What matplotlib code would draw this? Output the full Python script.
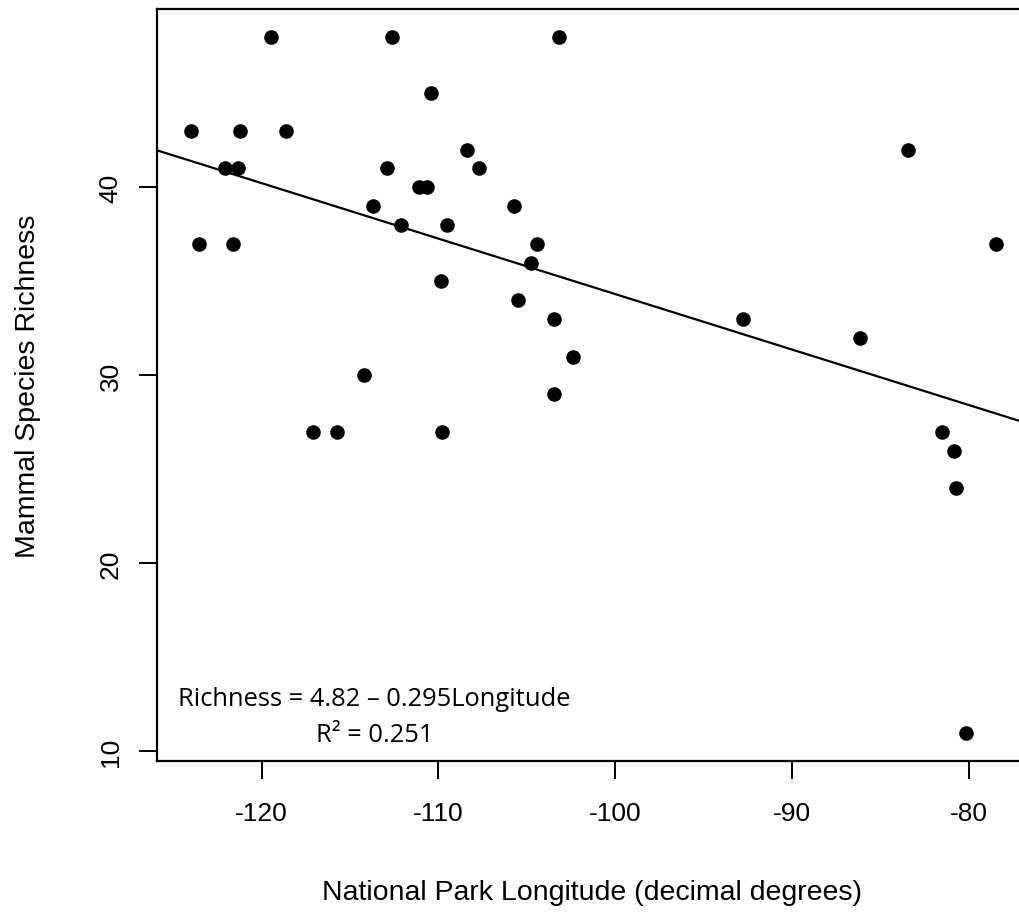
import matplotlib
matplotlib.use("Agg")
import matplotlib.pyplot as plt

# national park longitude (decimal degrees) and mammal species richness
longitude = [-124.0, -123.55, -122.08, -121.62, -121.32, -121.21, -119.47,
             -118.61, -117.12, -115.76, -114.20, -113.72, -112.93, -112.61,
             -112.14, -111.12, -110.67, -110.44, -109.88, -109.78, -109.54,
             -108.39, -107.73, -105.71, -105.49, -104.78, -104.45, -103.47,
             -103.47, -103.20, -102.41, -92.80, -86.16, -83.46, -81.54,
             -80.84, -80.73, -80.16, -78.48]
richness = [43, 37, 41, 37, 41, 43, 48,
            43, 27, 27, 30, 39, 41, 48,
            38, 40, 40, 45, 35, 27, 38,
            42, 41, 39, 34, 36, 37, 33,
            29, 48, 31, 33, 32, 42, 27,
            26, 24, 11, 37]

intercept = 4.82
slope = -0.295

x_ticks = [-120, -110, -100, -90, -80]
y_ticks = [10, 20, 30, 40]

fig = plt.figure(figsize=(10.2, 9.2), dpi=100)
W, H = 1020.0, 920.0
# axes box in pixels (the right side runs off the picture like the original)
left, right, top, bottom = 157.3, 1027.3, 10.0, 761.5
ax = fig.add_axes([left / W, 1 - bottom / H, (right - left) / W, (bottom - top) / H])

ax.plot(longitude, richness, 'o', color='black', markersize=10.5, markeredgewidth=0)
ax.axline((0, intercept), slope=slope, color='black', linewidth=1.6)

ax.set_xlim(-125.9, -76.7)
ax.set_ylim(9.52, 49.48)
ax.set_xticks(x_ticks)
ax.set_yticks(y_ticks)
ax.set_xticklabels([str(v) for v in x_ticks])
ax.set_yticklabels([str(v) for v in y_ticks], rotation=90, va='center')

for sp in ax.spines.values():
    sp.set_linewidth(1.6)
ax.tick_params(length=13, width=1.4, labelsize=19, pad=16, colors='black')
ax.tick_params(axis='y', pad=12)
for lab in ax.get_xticklabels() + ax.get_yticklabels():
    lab.set_family('Liberation Sans')

ax.set_xlabel('National Park Longitude (decimal degrees)', fontsize=20.5,
              family='Liberation Sans', va='center')
ax.xaxis.set_label_coords(592.3 / W, 1 - 893 / H, transform=fig.transFigure)
ax.set_ylabel('Mammal Species Richness', fontsize=20.5,
              family='Liberation Sans', va='center')
ax.yaxis.set_label_coords(28 / W, 1 - 386 / H, transform=fig.transFigure)

ax.text(374.5 / W, 1 - 700 / H, 'Richness = 4.82 \u2013 0.295Longitude',
        transform=fig.transFigure, ha='center', va='center', fontsize=18.4,
        family='Open Sans')
ax.text(374.5 / W, 1 - 736 / H, 'R\u00b2 = 0.251',
        transform=fig.transFigure, ha='center', va='center', fontsize=18.4,
        family='Open Sans')

fig.savefig('out.png', dpi=100)
